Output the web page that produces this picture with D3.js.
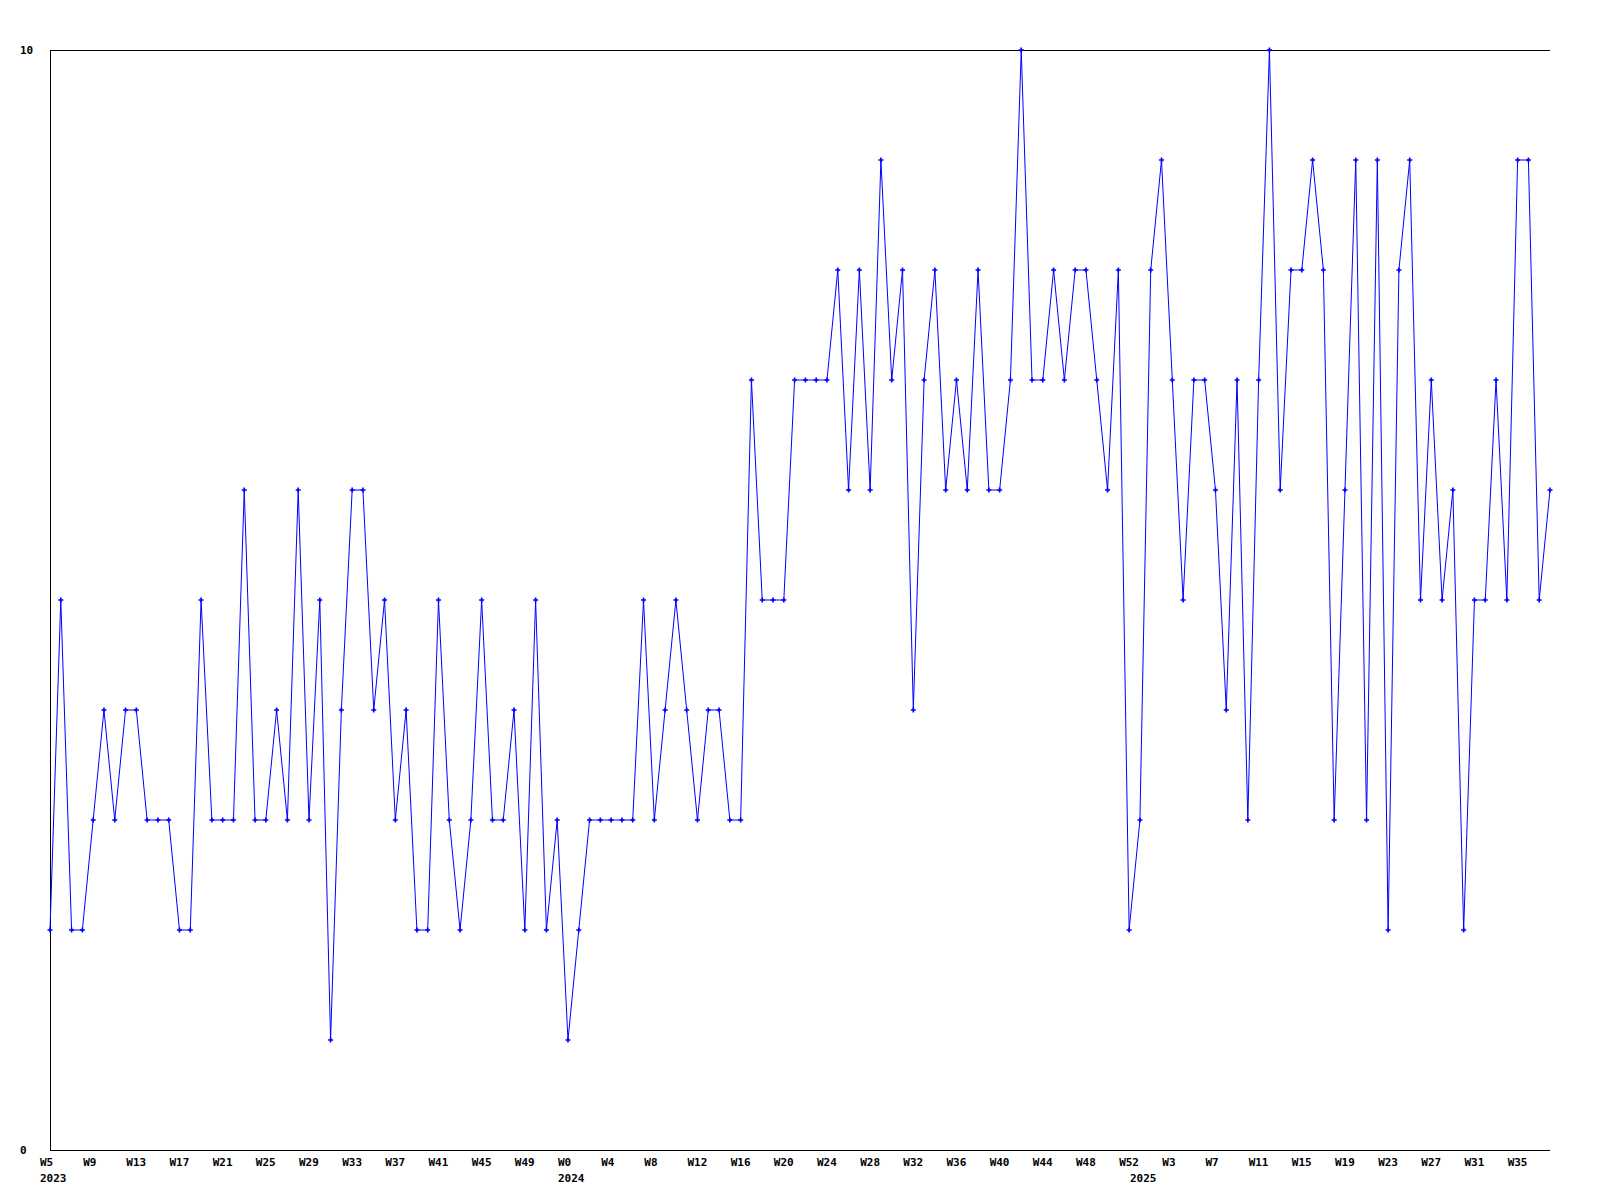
<!DOCTYPE html>
<html>
<head>
<meta charset="utf-8">
<script src="https://cdn.jsdelivr.net/npm/d3@7"></script>
<style>
  body { margin: 0; background: #fff; }
  text { font-family: "DejaVu Sans Mono", monospace; font-weight: bold; font-size: 11px; fill: #000; }
</style>
</head>
<body>
<script>
// weekly values, first week starts Monday 2023-01-30
var startDate = new Date(2023, 0, 30);
var values = [
  2,5,2,2,3,4,3,4,4,3,3,3,2,2,5,3,3,3,6,3,3,4,3,6,
  3,5,1,4,6,6,4,5,3,4,2,2,5,3,2,3,5,3,3,4,2,5,2,
  3,1,2,3,3,3,3,3,5,3,4,5,4,3,4,4,3,3,7,5,5,5,7,
  7,7,7,8,6,8,6,9,7,8,4,7,8,6,7,6,8,6,6,7,10,7,7,
  8,7,8,8,7,6,8,2,3,8,9,7,5,7,7,6,4,7,3,7,10,6,8,
  8,9,8,3,6,9,3,9,2,8,9,5,7,5,6,2,5,5,7,5,9,9,5,6
];
// week tick labels, one on every 4th week
var weekLabels = [
  "W5","W9","W13","W17","W21","W25","W29","W33","W37","W41","W45","W49",
  "W0","W4","W8","W12","W16","W20","W24","W28","W32","W36","W40","W44","W48","W52",
  "W3","W7","W11","W15","W19","W23","W27","W31","W35"
];
var yTickValues = [0, 10];

var margin = {top: 50, right: 50, bottom: 50, left: 50},
    width = 1600 - margin.left - margin.right,
    height = 1200 - margin.top - margin.bottom;

var data = values.map(function(v, i) {
  return {date: d3.timeWeek.offset(startDate, i), value: v};
});

var x = d3.scaleTime()
    .domain(d3.extent(data, function(d) { return d.date; }))
    .range([0, width]);
var y = d3.scaleLinear().domain([0, 10]).range([height, 0]);

var svg = d3.select("body").append("svg")
    .attr("width", 1600)
    .attr("height", 1200)
  .append("g")
    .attr("transform", "translate(" + margin.left + "," + margin.top + ")");

// frame: left, top, bottom
svg.append("path")
    .attr("d", "M" + width + ",0.5H0.5V" + (height + 0.5) + "H" + width)
    .attr("fill", "none")
    .attr("stroke", "#000")
    .attr("shape-rendering", "crispEdges");

// y labels
svg.selectAll(".ylab")
    .data(yTickValues)
    .enter().append("text")
    .attr("class", "ylab")
    .attr("x", -30)
    .attr("y", function(d) { return y(d) + 4; })
    .text(function(d) { return d; });

// week labels
var tickData = data.filter(function(d, i) { return i % 4 === 0; });
svg.selectAll(".wlab")
    .data(tickData)
    .enter().append("text")
    .attr("class", "wlab")
    .attr("x", function(d) { return x(d.date) - 10; })
    .attr("y", height + 16)
    .text(function(d, i) { return weekLabels[i]; });

// year labels at the first week of each year
var yearStarts = data.filter(function(d, i) {
  return i === 0 || d.date.getFullYear() !== data[i - 1].date.getFullYear();
});
svg.selectAll(".ylab2")
    .data(yearStarts)
    .enter().append("text")
    .attr("x", function(d) { return x(d.date) - 10; })
    .attr("y", height + 32)
    .text(function(d) { return d.date.getFullYear(); });

var line = d3.line()
    .x(function(d) { return x(d.date); })
    .y(function(d) { return y(d.value); });

svg.append("path")
    .datum(data)
    .attr("d", line)
    .attr("fill", "none")
    .attr("stroke", "#0000ff")
    .attr("stroke-width", 1);

svg.selectAll(".pt")
    .data(data)
    .enter().append("path")
    .attr("class", "pt")
    .attr("transform", function(d) { return "translate(" + x(d.date) + "," + y(d.value) + ")"; })
    .attr("d", d3.symbol(d3.symbolCross).size(14))
    .attr("fill", "#0000ff");
</script>
</body>
</html>
